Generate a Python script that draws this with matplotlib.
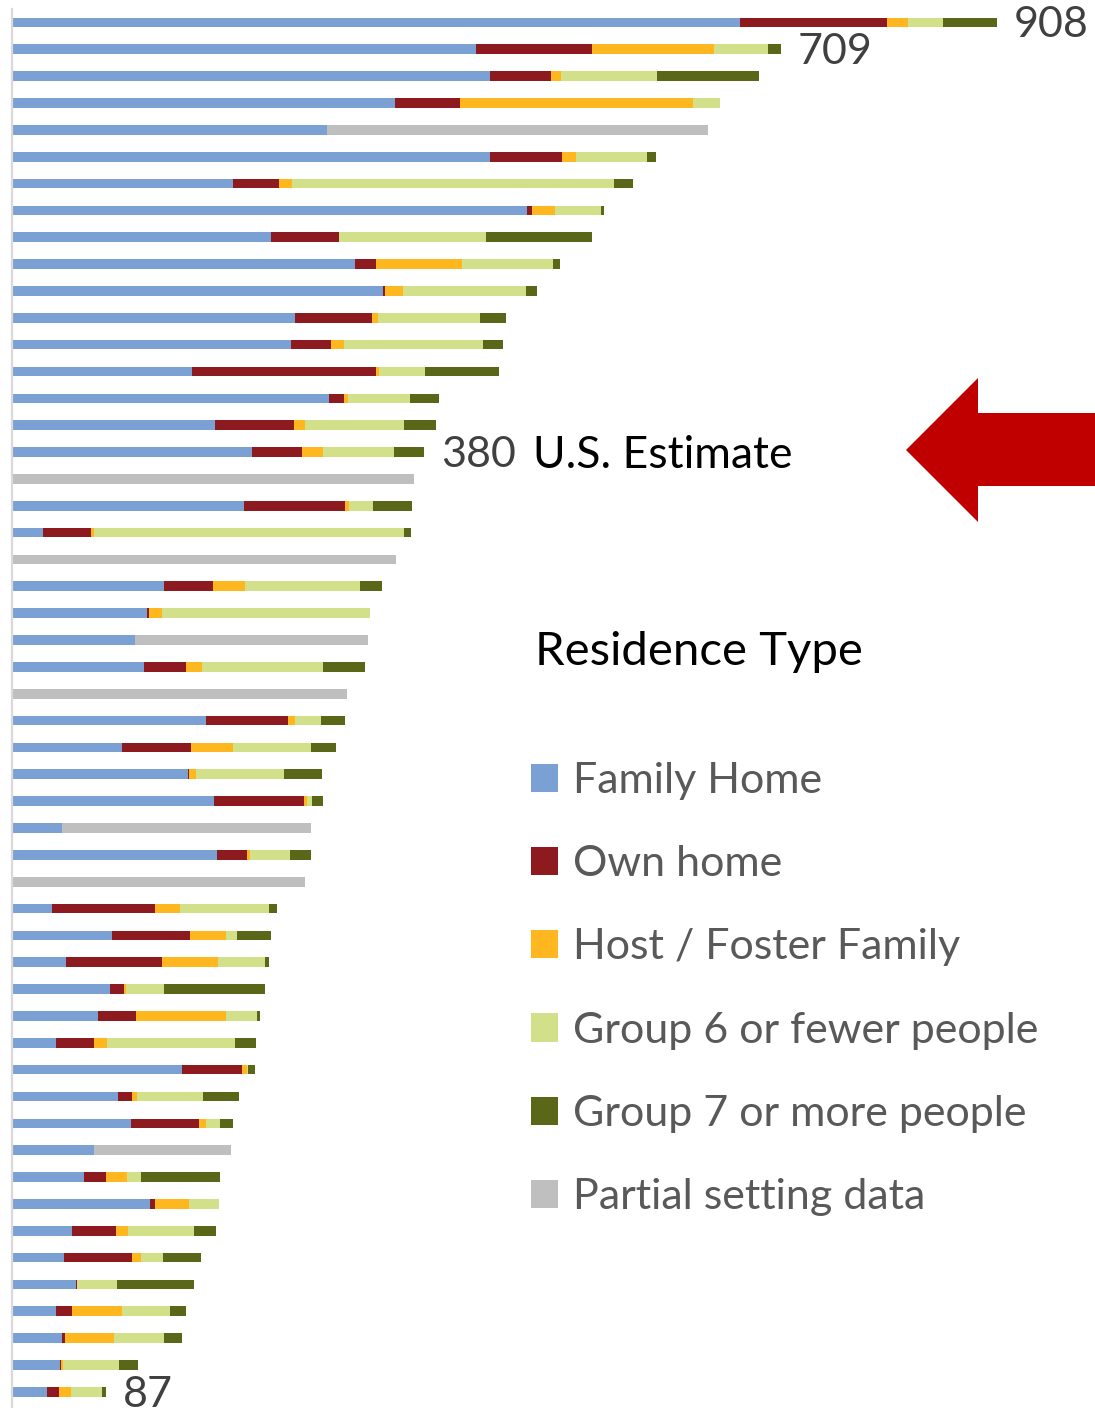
import matplotlib
matplotlib.use("Agg")
import matplotlib.pyplot as plt
from matplotlib.patches import Polygon, Patch
import numpy as np

plt.rcParams['font.family'] = ['Lato', 'DejaVu Sans']

# ---- data (one value per state/row, top to bottom) ----
family_home = [671, 428, 441, 353, 290, 441, 204, 475, 239, 316, 342, 261, 257, 166, 292, 187, 221, 0,
               214, 29, 0, 140, 124, 113, 122, 0, 179, 101, 162, 186, 46, 189, 0, 37, 92, 50, 90, 79,
               41, 157, 98, 110, 76, 66, 127, 55, 48, 59, 41, 46, 44, 32]
own_home = [136, 107, 56, 60, 0, 66, 42, 4, 62, 20, 2, 71, 37, 170, 14, 73, 46, 0,
            93, 44, 0, 45, 2, 0, 38, 0, 75, 64, 1, 83, 0, 28, 0, 95, 72, 88, 13, 35,
            35, 55, 13, 62, 0, 21, 5, 41, 63, 1, 14, 3, 1, 11]
host_foster = [19, 112, 9, 215, 0, 13, 12, 22, 0, 79, 16, 5, 12, 2, 4, 10, 20, 0,
               4, 3, 0, 30, 12, 0, 15, 0, 7, 39, 7, 3, 0, 2, 0, 23, 33, 52, 2, 83,
               12, 5, 4, 7, 0, 19, 31, 11, 8, 0, 46, 45, 2, 11]
group_6_fewer = [32, 50, 89, 25, 0, 65, 297, 42, 136, 84, 114, 94, 128, 43, 57, 91, 65, 0,
                 22, 285, 0, 106, 192, 0, 112, 0, 24, 72, 81, 5, 0, 37, 0, 82, 10, 43, 35, 29,
                 118, 1, 61, 13, 0, 13, 28, 61, 20, 37, 45, 46, 52, 29]
group_7_more = [50, 12, 94, 0, 0, 9, 17, 3, 98, 6, 10, 24, 19, 68, 27, 30, 28, 0,
                36, 7, 0, 20, 0, 0, 38, 0, 22, 23, 35, 10, 0, 20, 0, 7, 32, 4, 93, 3,
                19, 6, 33, 12, 0, 73, 0, 20, 35, 71, 14, 17, 17, 4]
partial_data = [0, 0, 0, 0, 352, 0, 0, 0, 0, 0, 0, 0, 0, 0, 0, 0, 0, 371,
                0, 0, 354, 0, 0, 215, 0, 309, 0, 0, 0, 0, 230, 0, 270, 0, 0, 0, 0, 0,
                0, 0, 0, 0, 126, 0, 0, 0, 0, 0, 0, 0, 0, 0]

series_names = ["Family Home", "Own home", "Host / Foster Family",
                "Group 6 or fewer people", "Group 7 or more people", "Partial setting data"]
series_colors = ["#7BA0D4", "#8C1A1E", "#FFB71F", "#D3E08A", "#5A6618", "#BFBFBF"]
labelled_rows = [0, 1, 16, 51]   # rows whose totals are printed
estimate_row = 16
estimate_text = "U.S. Estimate"

series = [family_home, own_home, host_foster, group_6_fewer, group_7_more, partial_data]
n = len(family_home)
y = np.arange(n)

W, H = 1095, 1408
fig = plt.figure(figsize=(W / 100, H / 100), dpi=100)
ax = fig.add_axes([12 / W, 0, (W - 12) / W, (H - 9) / H])

left = np.zeros(n)
for vals, name, col in zip(series, series_names, series_colors):
    vals = np.array(vals, dtype=float)
    ax.barh(y, vals, left=left, height=0.36, color=col, label=name, linewidth=0)
    left += vals
totals = left

ax.set_xlim(0, (W - 12) / 1.0848)
ax.set_ylim(51.6, -0.5)
for s in ["top", "right", "bottom"]:
    ax.spines[s].set_visible(False)
ax.spines["left"].set_color("#D9D9D9")
ax.spines["left"].set_linewidth(1.6)
ax.set_xticks([])
ax.set_yticks([])

for r in labelled_rows:
    ax.annotate(f"{int(round(totals[r]))}", xy=(totals[r], r), xytext=(12, -2),
                textcoords="offset points", va="center", ha="left",
                fontsize=31, color="#404040")

fig.text(533 / W, 1 - 455 / H, estimate_text, fontsize=32, color="black",
         va="center", ha="left")

# red arrow pointing at U.S. estimate
pts_px = [(906, 450), (978, 378), (978, 413), (1100, 413), (1100, 486), (978, 486), (978, 522)]
pts = [(x / W, 1 - yy / H) for x, yy in pts_px]
fig.add_artist(Polygon(pts, closed=True, transform=fig.transFigure,
                       facecolor="#C00000", edgecolor="none"))

# legend
fig.text(535 / W, 1 - 652 / H, "Residence Type", fontsize=34, color="black",
         va="center", ha="left")
handles = [Patch(facecolor=c, edgecolor="none") for c in series_colors]
leg = fig.legend(handles, series_names, loc="upper left",
                 bbox_to_anchor=(531 / W, 1 - 762 / H), frameon=False,
                 fontsize=31, handlelength=0.63, handleheight=0.63,
                 handletextpad=0.35, labelspacing=1.05, borderpad=0, borderaxespad=0)
for t in leg.get_texts():
    t.set_color("#595959")

fig.savefig("out.png", dpi=100)
